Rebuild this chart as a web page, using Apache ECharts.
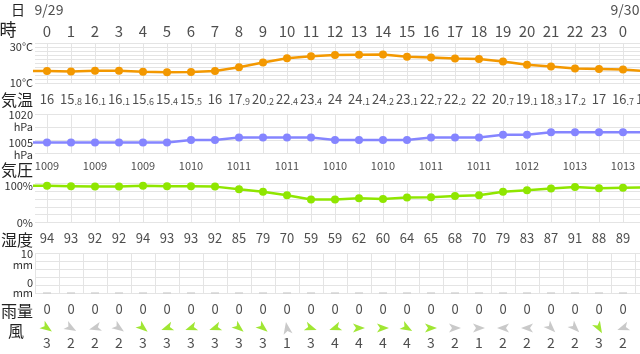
<!DOCTYPE html>
<html>
<head>
<meta charset="utf-8">
<script src="https://cdn.jsdelivr.net/npm/echarts@6/dist/echarts.min.js"></script>
<style>
html,body{margin:0;padding:0;background:#fff;}
#chart{width:640px;height:354px;}
</style>
</head>
<body>
<div id="chart"></div>
<script>
// hours -1 .. 25 (first and last are only partly visible at the edges)
var hours = [-1,0,1,2,3,4,5,6,7,8,9,10,11,12,13,14,15,16,17,18,19,20,21,22,23,24,25];
var hourLabels = ['','0','1','2','3','4','5','6','7','8','9','10','11','12','13','14','15','16','17','18','19','20','21','22','23','0','1'];
var dateHours = [0, 24];
var dateLabels = ['9/29', '9/30'];
var temps = [16.1,16,15.8,16.1,16.1,15.6,15.4,15.5,16,17.9,20.2,22.4,23.4,24,24.1,24.2,23.1,22.7,22.2,22,20.7,19.1,18.3,17.2,17,16.7,15.9];
var press = [1009,1009,1009,1009,1009,1009,1009,1010,1010,1011,1011,1011,1011,1010,1010,1010,1010,1011,1011,1011,1012,1012,1013,1013,1013,1013,1013];
var humid = [94,94,93,92,92,94,93,93,92,85,79,70,59,59,62,60,64,65,68,70,79,83,87,91,88,89,90];
var rain = [0,0,0,0,0,0,0,0,0,0,0,0,0,0,0,0,0,0,0,0,0,0,0,0,0,0,0];
var windSpeed = [3,3,2,2,2,3,3,3,3,3,3,1,3,4,4,4,4,3,2,1,2,2,2,2,3,2,2];
// direction the arrow points to, degrees counter-clockwise from east
var windDir = [-30,-35,-30,195,-35,-40,200,200,200,-40,-40,100,-20,200,0,0,-30,0,0,0,180,180,-45,-45,-60,200,200];

var FONT = '"Noto Sans CJK JP", sans-serif';
var TXT = '#222';
var GRIDC = '#e4e4e4';

var myChart = echarts.init(document.getElementById('chart'));
var grid = [], xAxis = [], yAxis = [], series = [];

function addGrid(top, height, xSplit) {
  var gi = grid.length;
  grid.push({left: 35, width: 624, top: top, height: height, outerBoundsMode: 'none', containLabel: false});
  xAxis.push({type: 'value', gridIndex: gi, min: -0.5, max: 25.5, interval: 1,
    axisLine: {show: false}, axisTick: {show: false}, axisLabel: {show: false},
    splitLine: {show: !!xSplit, lineStyle: {color: GRIDC, width: 1}}});
  return gi;
}

function vLines() {
  return {silent: true, symbol: ['none', 'none'], label: {show: false}, z: 1,
    lineStyle: {color: GRIDC, width: 1, type: 'solid'}, emphasis: {disabled: true},
    data: hours.slice(1).map(function (h) { return {xAxis: h}; })};
}

// a row of text, one label per hour
function addRow(yc, hs, vals, label) {
  var gi = addGrid(yc - 5, 10);
  yAxis.push({type: 'value', gridIndex: gi, min: -1, max: 1, show: false});
  var lb = {show: true, position: [0, 0], align: 'center', verticalAlign: 'middle',
    fontFamily: FONT, color: TXT, fontSize: 13,
    formatter: function (p) { return String(p.value[2]); }};
  for (var k in label) lb[k] = label[k];
  series.push({type: 'scatter', xAxisIndex: gi, yAxisIndex: yAxis.length - 1,
    symbolSize: 0, silent: true,
    data: hs.map(function (h, i) { return [h, 0, vals[i]]; }),
    label: lb});
}

// panel with value axis; two left axes: one shows the min label, one the max label
function addPanel(top, height, min, max, interval, minText, minAlign, maxText, maxAlign, rich) {
  var gi = addGrid(top, height);
  var base = {type: 'value', gridIndex: gi, min: min, max: max, interval: interval, position: 'left',
    axisLine: {show: false}, axisTick: {show: false}};
  var a1 = Object.assign({}, base, {
    splitLine: {lineStyle: {color: GRIDC, width: 1}},
    axisLabel: {margin: 2, fontSize: 11, color: '#333', fontFamily: FONT, verticalAlign: minAlign, rich: rich,
      formatter: function (v) { return v === min ? minText : ''; }}});
  var a2 = Object.assign({}, base, {
    splitLine: {show: false},
    axisLabel: {margin: 2, fontSize: 11, color: '#333', fontFamily: FONT, verticalAlign: maxAlign, rich: rich,
      formatter: function (v) { return v === max ? maxText : ''; }}});
  yAxis.push(a1);
  var yi = yAxis.length - 1;
  yAxis.push(a2);
  return {gi: gi, yi: yi};
}

function lineSeries(p, vals, color) {
  return {type: 'line', xAxisIndex: p.gi, yAxisIndex: p.yi, z: 3,
    data: hours.map(function (h, i) { return [h, vals[i]]; }),
    symbol: 'circle', symbolSize: 8, showSymbol: true,
    lineStyle: {color: color, width: 2.5}, itemStyle: {color: color},
    markLine: vLines()};
}

var r = {fontSize: 11, fontFamily: FONT, color: '#333', align: 'right'};
function rs(lh) { return Object.assign({}, r, {lineHeight: lh}); }

// date and hour rows
addRow(10, dateHours, dateLabels, {fontSize: 14, offset: [2, 0]});
addRow(31, hours.slice(1), hourLabels.slice(1), {fontSize: 15});

// temperature
var pT = addPanel(43, 40, 10, 30, 2, '10°C', 'middle', '{a|30°C}', 'top', {a: rs(7)});
series.push(lineSeries(pT, temps, '#f39800'));
addRow(99, hours.slice(1), temps.slice(1), {
  formatter: function (p) {
    var s = String(p.value[2]).split('.');
    return s.length > 1 ? '{i|' + s[0] + '}{d|.' + s[1] + '}' : '{i|' + s[0] + '}';
  },
  rich: {i: {fontSize: 13, fontFamily: FONT, color: TXT, lineHeight: 14},
         d: {fontSize: 9, fontFamily: FONT, color: TXT, lineHeight: 12, verticalAlign: 'bottom'}}
});

// pressure
var pP = addPanel(114, 39, 1005, 1020, 5, '{a|1005}\n{b|hPa}', 'middle', '{c|1020}\n{d|hPa}', 'top',
  {a: rs(4), b: rs(20), c: rs(2), d: rs(22)});
series.push(lineSeries(pP, press, '#8585ff'));
var evenH = [], evenP = [];
hours.forEach(function (h, i) { if (h >= 0 && h % 2 === 0) { evenH.push(h); evenP.push(press[i]); } });
addRow(166, evenH, evenP, {fontSize: 11});

// humidity
var pH = addPanel(183.5, 39, 0, 100, 20, '0%', 'middle', '{a|100%}', 'top', {a: rs(4)});
series.push(lineSeries(pH, humid, '#8fe600'));
addRow(238.5, hours.slice(1), humid.slice(1), {fontSize: 13});

// rain
var gR = addGrid(253, 40, true);
var rainY = {type: 'value', gridIndex: gR, min: 0, max: 10, interval: 2, position: 'left',
  axisLine: {show: false}, axisTick: {show: false}};
yAxis.push(Object.assign({}, rainY, {splitLine: {lineStyle: {color: GRIDC}},
  axisLabel: {margin: 2, verticalAlign: 'bottom', rich: {a: rs(18), b: rs(1)},
    formatter: function (v) { return v === 0 ? '{a|0}\n{b|mm}' : ''; }}}));
var yR = yAxis.length - 1;
yAxis.push(Object.assign({}, rainY, {splitLine: {show: false},
  axisLabel: {margin: 2, verticalAlign: 'top', rich: {a: rs(1), b: rs(22)},
    formatter: function (v) { return v === 10 ? '{a|10}\n{b|mm}' : ''; }}}));
series.push({type: 'scatter', xAxisIndex: gR, yAxisIndex: yR, clip: false, silent: true,
  symbol: 'rect', symbolSize: [8, 1.5], itemStyle: {color: '#cccccc'},
  data: hours.slice(1).map(function (h, i) { return [h, rain[i + 1]]; })});
addRow(309, hours.slice(1), rain.slice(1), {fontSize: 13});

// wind arrows
var gW = addGrid(323, 10);
yAxis.push({type: 'value', gridIndex: gW, min: -1, max: 1, show: false});
series.push({type: 'scatter', xAxisIndex: gW, yAxisIndex: yAxis.length - 1, silent: true,
  symbol: 'path://M0,0 L20,8 L0,16 L5,8 Z', symbolSize: [12, 9],
  data: hours.slice(1).map(function (h, i) {
    return {value: [h, 0], symbolRotate: windDir[i + 1],
      itemStyle: {color: windSpeed[i + 1] >= 3 ? '#88e000' : '#bbbbbb'}};
  })});
addRow(343, hours.slice(1), windSpeed.slice(1), {fontSize: 14});

function head(x, y, text, size) {
  return {type: 'text', x: x, y: y, silent: true,
    style: {text: text, fontSize: size, fontFamily: FONT, fill: TXT, align: 'center', verticalAlign: 'middle'}};
}

myChart.setOption({
  animation: false,
  grid: grid, xAxis: xAxis, yAxis: yAxis, series: series,
  graphic: [
    head(18, 10, '日', 14),
    head(8, 30, '時', 17),
    head(17, 100, '気温', 16),
    head(17, 170, '気圧', 16),
    head(17, 240, '湿度', 16),
    head(17, 311, '雨量', 16),
    head(16, 331, '風', 16)
  ]
});
</script>
</body>
</html>
